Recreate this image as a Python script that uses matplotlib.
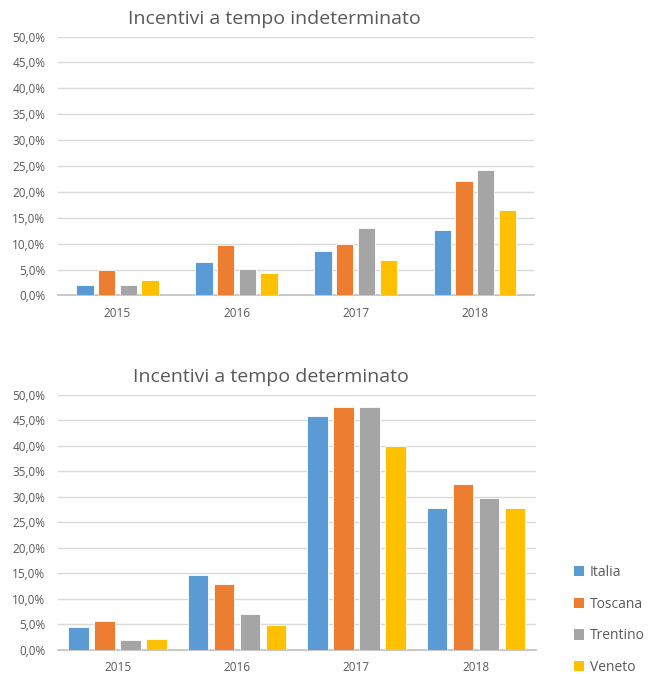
import numpy as np
import matplotlib
matplotlib.use('Agg')
import matplotlib.pyplot as plt
from matplotlib.patches import Patch
from matplotlib.ticker import FuncFormatter, MultipleLocator

plt.rcParams['font.family'] = ['Open Sans', 'DejaVu Sans']

# Dati
anni = ['2015', '2016', '2017', '2018']
regioni = ['Italia', 'Toscana', 'Trentino', 'Veneto']
colori = ['#5B9BD5', '#ED7D31', '#A5A5A5', '#FFC000']

# Incentivi a tempo indeterminato (%)
indet_italia = [2.1, 6.4, 8.6, 12.7]
indet_toscana = [5.0, 9.7, 10.0, 22.2]
indet_trentino = [2.1, 5.1, 13.1, 24.2]
indet_veneto = [2.9, 4.4, 6.9, 16.5]

# Incentivi a tempo determinato (%)
det_italia = [4.6, 14.6, 45.8, 27.8]
det_toscana = [5.7, 12.9, 47.6, 32.5]
det_trentino = [2.0, 7.0, 47.6, 29.8]
det_veneto = [2.2, 4.8, 40.0, 27.9]


def perc(v, pos):
    return ('%.1f%%' % v).replace('.', ',')


def grafico(ax, serie, titolo, passo, larghezza, xtit):
    x = np.arange(len(anni))
    for i, (valori, colore) in enumerate(zip(serie, colori)):
        ax.bar(x + (i - 1.5) * passo, valori, width=larghezza, color=colore,
               edgecolor='white', linewidth=0.6, zorder=3)
    ax.set_xlim(-0.5, len(anni) - 0.5)
    ax.set_ylim(0, 50)
    ax.yaxis.set_major_locator(MultipleLocator(5))
    ax.yaxis.set_major_formatter(FuncFormatter(perc))
    ax.set_xticks(x)
    ax.set_xticklabels(anni)
    ax.grid(axis='y', color='#D9D9D9', linewidth=1, zorder=0)
    for lato in ['top', 'right', 'left']:
        ax.spines[lato].set_visible(False)
    ax.spines['bottom'].set_color('#BFBFBF')
    ax.spines['bottom'].set_linewidth(1.2)
    ax.tick_params(length=0, colors='#595959', labelsize=8.5)
    ax.tick_params(axis='y', pad=9)
    ax.tick_params(axis='x', pad=8)
    ax.set_title(titolo, fontsize=14, color='#595959', pad=9, x=xtit)


fig = plt.figure(figsize=(6.5, 6.74), dpi=100)
ax1 = fig.add_axes([0.089, 0.5616, 0.733, 0.3842])
ax2 = fig.add_axes([0.089, 0.0356, 0.735, 0.3788])

grafico(ax1, [indet_italia, indet_toscana, indet_trentino, indet_veneto],
        'Incentivi a tempo indeterminato', 0.182, 0.145, 0.455)
grafico(ax2, [det_italia, det_toscana, det_trentino, det_veneto],
        'Incentivi a tempo determinato', 0.218, 0.172, 0.447)

handles = [Patch(facecolor=c, edgecolor='none') for c in colori]
leg = fig.legend(handles, regioni, loc='upper left', bbox_to_anchor=(0.874, 0.17),
                 frameon=False, fontsize=10, handlelength=0.75, handleheight=0.75,
                 handletextpad=0.4, labelspacing=1.2, borderaxespad=0)
for t in leg.get_texts():
    t.set_color('#595959')

fig.savefig('out.png', dpi=100)
